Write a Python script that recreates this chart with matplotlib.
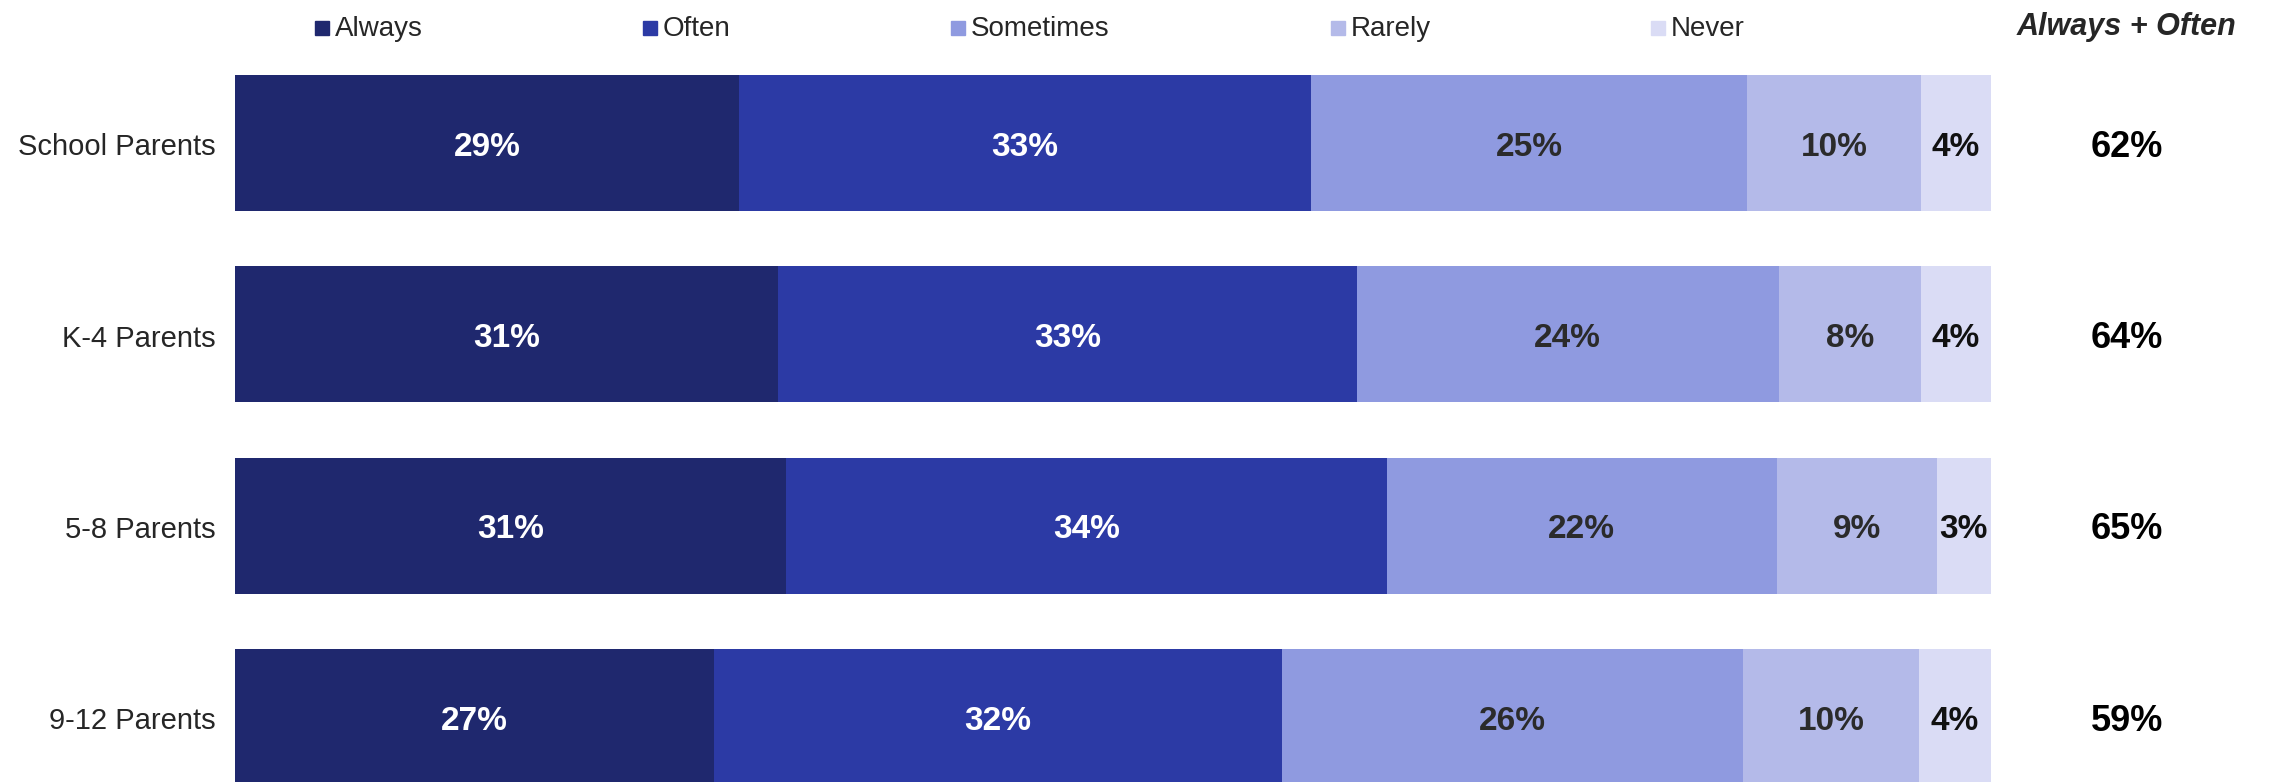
import matplotlib.pyplot as plt
from matplotlib.patches import Rectangle

# values (segment widths, in percent)
categories = ['School Parents', 'K-4 Parents', '5-8 Parents', '9-12 Parents']
always = [28.7, 30.9, 31.4, 27.3]
often = [32.6, 33.0, 34.2, 32.3]
sometimes = [24.8, 24.0, 22.2, 26.3]
rarely = [9.9, 8.1, 9.1, 10.0]
never = [4.0, 4.0, 3.1, 4.1]
always_often = [62, 64, 65, 59]

series_names = ['Always', 'Often', 'Sometimes', 'Rarely', 'Never']
series = [always, often, sometimes, rarely, never]
colors = ['#1f286e', '#2c3aa5', '#8f9ae0', '#b4bae9', '#dadcf5']
label_colors = ['white', 'white', '#2b2b2b', '#2b2b2b', '#111111']

plt.rcParams['font.family'] = ['Liberation Sans', 'DejaVu Sans']

W, H = 2269, 782
fig = plt.figure(figsize=(W / 100, H / 100), dpi=100)
ax = fig.add_axes([235 / W, 0, (1991 - 235) / W, 1])

pitch = 191.3
top_center = 143
ax.set_ylim((H - top_center) / pitch, -top_center / pitch)
ax.set_xlim(0, 100)
ax.set_axis_off()

dy = 0.022  # text sits a touch below the bar middle in the original
ypos = list(range(len(categories)))
left = [0] * len(categories)
for vals, col, lc in zip(series, colors, label_colors):
    ax.barh(ypos, vals, left=left, height=0.711, color=col, edgecolor='none')
    for i, v in enumerate(vals):
        ax.text(left[i] + v / 2, i + dy, f'{round(v)}%', ha='center', va='center',
                fontsize=24, fontweight='bold', color=lc)
    left = [l + v for l, v in zip(left, vals)]

for i, cat in enumerate(categories):
    ax.text(-1.1, i + dy, cat, ha='right', va='center', fontsize=21, color='#262626')
    ax.text(107.75, i + dy, f'{always_often[i]}%', ha='center', va='center',
            fontsize=26, fontweight='bold', color='black')

fig.text(2127 / W, 1 - 27 / H, 'Always + Often', ha='center', va='center',
         fontsize=22, fontweight='bold', fontstyle='italic', color='#262626')

# legend drawn by hand to match the spacing of the original
leg_x = [315, 643, 951, 1331, 1651]
leg_y = 28
for name, col, x in zip(series_names, colors, leg_x):
    fig.add_artist(Rectangle((x / W, 1 - (leg_y + 7) / H), 14 / W, 14 / H,
                             transform=fig.transFigure, color=col))
    fig.text((x + 20) / W, 1 - (leg_y + 1) / H, name, ha='left', va='center',
             fontsize=20, color='#262626')

fig.savefig('out.png', dpi=100)
